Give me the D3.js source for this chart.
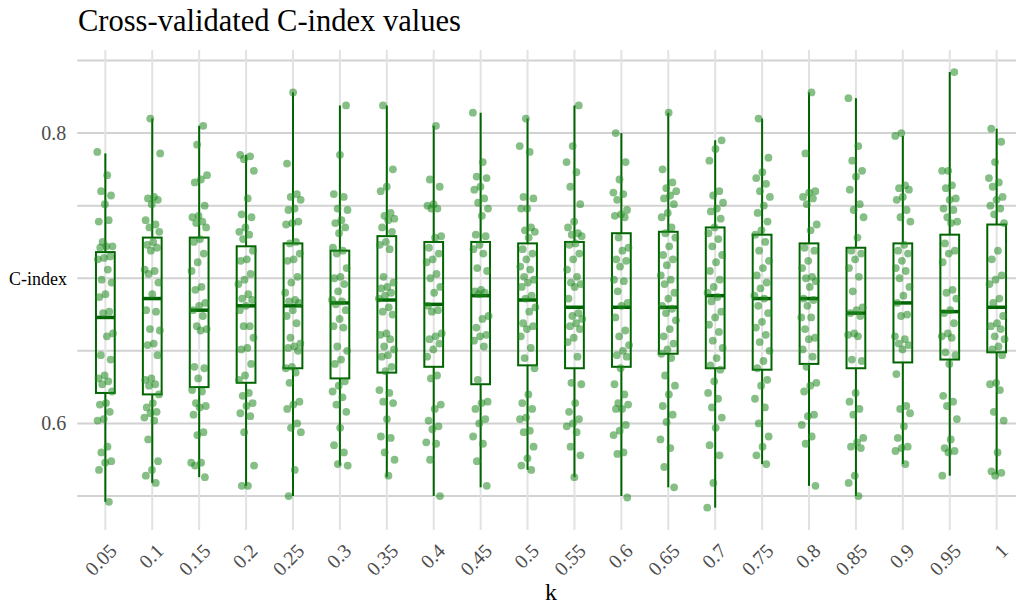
<!DOCTYPE html>
<html><head><meta charset="utf-8">
<script src="https://cdn.jsdelivr.net/npm/d3@7"></script>
<style>
body{margin:0;background:#fff}
svg{display:block}
text{font-family:"Liberation Serif","Times New Roman",serif}
</style>
</head><body><svg id="c" width="1016" height="607"></svg>
<script>
const categories = ["0.05","0.1","0.15","0.2","0.25","0.3","0.35","0.4","0.45","0.5","0.55","0.6","0.65","0.7","0.75","0.8","0.85","0.9","0.95","1"];
const yTicks = [0.6, 0.8];
const yGrid = [0.55, 0.6, 0.65, 0.7, 0.75, 0.8, 0.85];

// box statistics
const whiskerHi = [0.786,0.810,0.805,0.785,0.828,0.819,0.819,0.805,0.814,0.810,0.819,0.800,0.814,0.795,0.810,0.828,0.824,0.798,0.842,0.803];
const q3        = [0.718,0.728,0.728,0.722,0.724,0.719,0.729,0.725,0.725,0.724,0.725,0.731,0.732,0.735,0.730,0.724,0.721,0.724,0.730,0.737];
const medians   = [0.673,0.686,0.678,0.681,0.681,0.683,0.685,0.682,0.688,0.685,0.680,0.680,0.680,0.688,0.686,0.686,0.676,0.683,0.677,0.680];
const q1        = [0.621,0.620,0.625,0.628,0.638,0.631,0.635,0.639,0.627,0.640,0.638,0.639,0.648,0.638,0.637,0.641,0.638,0.642,0.644,0.649];
const whiskerLo = [0.546,0.559,0.563,0.557,0.550,0.571,0.563,0.550,0.556,0.568,0.563,0.550,0.556,0.542,0.572,0.557,0.550,0.572,0.564,0.565];

// cross-validated C-index values per k
const cv_005 = [0.787,0.771,0.760,0.757,0.751,0.739,0.740,0.725,0.722,0.722,0.721,0.715,0.714,0.713,0.706,0.699,0.697,0.689,0.687,0.677,0.676,0.662,0.660,0.647,0.644,0.633,0.631,0.629,0.627,0.622,0.614,0.613,0.608,0.603,0.602,0.584,0.580,0.574,0.573,0.568,0.546];
const cv_010 = [0.810,0.786,0.756,0.755,0.754,0.751,0.740,0.737,0.735,0.732,0.725,0.723,0.721,0.719,0.706,0.705,0.703,0.697,0.689,0.678,0.677,0.665,0.664,0.655,0.654,0.647,0.631,0.630,0.627,0.626,0.620,0.614,0.611,0.608,0.607,0.604,0.602,0.589,0.574,0.568,0.564,0.559];
const cv_015 = [0.805,0.792,0.771,0.768,0.766,0.750,0.743,0.742,0.739,0.738,0.735,0.727,0.725,0.717,0.711,0.705,0.694,0.692,0.683,0.681,0.678,0.674,0.667,0.665,0.664,0.639,0.638,0.631,0.623,0.622,0.614,0.612,0.611,0.606,0.594,0.592,0.573,0.573,0.571,0.563];
const cv_020 = [0.785,0.784,0.782,0.774,0.755,0.744,0.742,0.735,0.732,0.730,0.727,0.719,0.713,0.712,0.703,0.699,0.696,0.689,0.686,0.685,0.681,0.678,0.667,0.667,0.659,0.652,0.651,0.641,0.633,0.630,0.621,0.619,0.614,0.612,0.607,0.605,0.594,0.571,0.557,0.557];
const cv_025 = [0.828,0.779,0.758,0.756,0.754,0.748,0.747,0.739,0.738,0.737,0.725,0.724,0.717,0.713,0.712,0.701,0.697,0.690,0.685,0.684,0.683,0.678,0.674,0.669,0.659,0.655,0.653,0.652,0.650,0.639,0.638,0.635,0.628,0.615,0.613,0.610,0.600,0.597,0.594,0.568,0.550];
const cv_030 = [0.819,0.785,0.758,0.756,0.748,0.747,0.740,0.738,0.735,0.731,0.721,0.719,0.717,0.707,0.701,0.700,0.696,0.691,0.685,0.684,0.682,0.678,0.672,0.667,0.666,0.653,0.650,0.644,0.641,0.629,0.626,0.622,0.618,0.613,0.608,0.597,0.585,0.580,0.572,0.571];
const cv_035 = [0.819,0.775,0.763,0.760,0.745,0.743,0.741,0.740,0.735,0.732,0.725,0.723,0.720,0.701,0.697,0.694,0.693,0.690,0.688,0.686,0.680,0.677,0.675,0.662,0.661,0.658,0.653,0.651,0.647,0.646,0.639,0.636,0.623,0.621,0.615,0.614,0.603,0.591,0.590,0.580,0.575,0.564];
const cv_040 = [0.805,0.768,0.763,0.751,0.750,0.748,0.748,0.729,0.728,0.721,0.717,0.713,0.711,0.703,0.700,0.694,0.690,0.681,0.678,0.677,0.662,0.660,0.658,0.655,0.651,0.646,0.633,0.631,0.613,0.610,0.602,0.598,0.596,0.587,0.586,0.575,0.550];
const cv_045 = [0.814,0.780,0.770,0.769,0.763,0.761,0.755,0.752,0.748,0.743,0.730,0.729,0.723,0.720,0.717,0.707,0.705,0.692,0.691,0.690,0.689,0.674,0.672,0.666,0.661,0.660,0.657,0.653,0.630,0.615,0.614,0.610,0.603,0.600,0.591,0.586,0.574,0.557];
const cv_050 = [0.810,0.791,0.787,0.756,0.755,0.748,0.748,0.735,0.733,0.732,0.728,0.720,0.717,0.713,0.708,0.706,0.701,0.699,0.697,0.694,0.688,0.686,0.680,0.677,0.669,0.667,0.665,0.660,0.652,0.645,0.638,0.620,0.614,0.610,0.604,0.603,0.595,0.594,0.584,0.576,0.571,0.568];
const cv_055 = [0.819,0.791,0.780,0.773,0.763,0.751,0.739,0.735,0.731,0.730,0.729,0.724,0.723,0.717,0.713,0.706,0.701,0.697,0.696,0.694,0.686,0.676,0.674,0.672,0.669,0.667,0.665,0.659,0.656,0.646,0.628,0.627,0.614,0.608,0.603,0.600,0.598,0.594,0.584,0.578,0.563];
const cv_060 = [0.800,0.780,0.768,0.759,0.758,0.754,0.747,0.744,0.743,0.742,0.728,0.721,0.719,0.713,0.712,0.708,0.699,0.698,0.691,0.683,0.681,0.673,0.664,0.660,0.654,0.650,0.647,0.646,0.638,0.627,0.620,0.614,0.613,0.610,0.610,0.599,0.595,0.592,0.580,0.579,0.549];
const cv_065 = [0.814,0.775,0.766,0.762,0.760,0.757,0.755,0.751,0.745,0.742,0.735,0.731,0.728,0.722,0.716,0.713,0.709,0.702,0.699,0.696,0.690,0.686,0.681,0.679,0.676,0.671,0.665,0.660,0.655,0.651,0.648,0.645,0.633,0.626,0.620,0.612,0.606,0.601,0.589,0.583,0.570,0.556];
const cv_070 = [0.795,0.789,0.781,0.760,0.757,0.752,0.748,0.746,0.741,0.735,0.731,0.727,0.722,0.716,0.711,0.705,0.699,0.694,0.690,0.687,0.684,0.677,0.673,0.668,0.663,0.657,0.652,0.645,0.640,0.637,0.629,0.621,0.617,0.611,0.604,0.597,0.585,0.578,0.559,0.542];
const cv_075 = [0.810,0.783,0.773,0.769,0.765,0.760,0.756,0.750,0.745,0.739,0.733,0.730,0.725,0.719,0.712,0.707,0.702,0.697,0.693,0.688,0.686,0.681,0.676,0.670,0.666,0.661,0.656,0.650,0.643,0.638,0.630,0.626,0.617,0.611,0.600,0.591,0.584,0.578,0.572];
const cv_080 = [0.828,0.786,0.760,0.759,0.756,0.755,0.751,0.737,0.733,0.721,0.719,0.712,0.707,0.701,0.700,0.698,0.694,0.686,0.685,0.681,0.673,0.673,0.665,0.659,0.658,0.651,0.646,0.639,0.628,0.626,0.622,0.606,0.605,0.599,0.591,0.586,0.557];
const cv_085 = [0.824,0.791,0.781,0.774,0.770,0.761,0.751,0.747,0.742,0.728,0.719,0.717,0.713,0.707,0.701,0.691,0.680,0.678,0.676,0.674,0.662,0.661,0.660,0.644,0.643,0.621,0.615,0.610,0.606,0.590,0.587,0.584,0.583,0.564,0.559,0.550];
const cv_090 = [0.800,0.798,0.764,0.762,0.761,0.756,0.754,0.747,0.742,0.739,0.723,0.719,0.717,0.712,0.707,0.705,0.700,0.694,0.688,0.683,0.675,0.674,0.660,0.658,0.655,0.654,0.651,0.634,0.612,0.610,0.607,0.598,0.590,0.584,0.583,0.581,0.572];
const cv_095 = [0.842,0.774,0.774,0.764,0.762,0.755,0.754,0.748,0.747,0.742,0.739,0.738,0.724,0.719,0.717,0.711,0.692,0.690,0.686,0.678,0.676,0.669,0.662,0.660,0.659,0.649,0.647,0.641,0.619,0.615,0.612,0.603,0.589,0.583,0.581,0.580,0.564];
const cv_100 = [0.803,0.794,0.780,0.769,0.766,0.763,0.756,0.754,0.750,0.748,0.744,0.738,0.719,0.713,0.702,0.699,0.696,0.686,0.683,0.674,0.669,0.667,0.665,0.660,0.658,0.653,0.651,0.647,0.628,0.627,0.623,0.608,0.602,0.580,0.567,0.566,0.564];

const cvSeries = [cv_005,cv_010,cv_015,cv_020,cv_025,cv_030,cv_035,cv_040,cv_045,cv_050,cv_055,cv_060,cv_065,cv_070,cv_075,cv_080,cv_085,cv_090,cv_095,cv_100];

const W = 1016, H = 607;
const svg = d3.select("#c");
const x = d3.scalePoint().domain(categories).range([77.2, 1024.8]).padding(0.6);
const y = d3.scaleLinear().domain([0.5266, 0.8572]).range([530, 50]);
const step = x.step();
const boxW = step * 0.4;

// grid
const grid = svg.append("g");
grid.selectAll("line.h").data(yGrid).join("line").attr("class", "h")
  .attr("x1", 77.2).attr("x2", W).attr("y1", d => y(d)).attr("y2", d => y(d))
  .attr("stroke", "#d2d2d2").attr("stroke-width", 2);
grid.selectAll("line.v").data(categories).join("line").attr("class", "v")
  .attr("x1", d => x(d)).attr("x2", d => x(d)).attr("y1", 50).attr("y2", 530)
  .attr("stroke", "#e2e2e2").attr("stroke-width", 2);

// boxes
const boxes = categories.map((c, i) => ({c, lo: whiskerLo[i], q1: q1[i], med: medians[i], q3: q3[i], hi: whiskerHi[i]}));
const bg = svg.append("g").attr("stroke", "#006400").attr("fill", "none");
bg.selectAll("line.wu").data(boxes).join("line").attr("class", "wu")
  .attr("x1", d => x(d.c)).attr("x2", d => x(d.c)).attr("y1", d => y(d.q3)).attr("y2", d => y(d.hi)).attr("stroke-width", 2);
bg.selectAll("line.wl").data(boxes).join("line").attr("class", "wl")
  .attr("x1", d => x(d.c)).attr("x2", d => x(d.c)).attr("y1", d => y(d.q1)).attr("y2", d => y(d.lo)).attr("stroke-width", 2);
bg.selectAll("rect").data(boxes).join("rect")
  .attr("x", d => x(d.c) - boxW / 2).attr("width", boxW)
  .attr("y", d => y(d.q3)).attr("height", d => y(d.q1) - y(d.q3)).attr("stroke-width", 2);
bg.selectAll("line.med").data(boxes).join("line").attr("class", "med")
  .attr("x1", d => x(d.c) - boxW / 2).attr("x2", d => x(d.c) + boxW / 2)
  .attr("y1", d => y(d.med)).attr("y2", d => y(d.med)).attr("stroke-width", 3.5);

// jittered points (deterministic horizontal spread)
const pts = [];
cvSeries.forEach((arr, g) => arr.forEach((v, i) => {
  const f = ((i * 0.6180339887 + g * 0.377) % 1) - 0.5;
  pts.push({c: categories[g], v, off: f * 16});
}));
svg.append("g").selectAll("circle").data(pts).join("circle")
  .attr("cx", d => x(d.c) + d.off).attr("cy", d => y(d.v)).attr("r", 3.9)
  .attr("fill", "#228B22").attr("fill-opacity", 0.55);

// axes
const yAxis = svg.append("g").attr("transform", "translate(77.2,0)")
  .call(d3.axisLeft(y).tickValues(yTicks).tickFormat(d3.format("~g")).tickSize(0).tickPadding(11));
yAxis.select(".domain").remove();
yAxis.selectAll("text").attr("fill", "#4d4d4d").style("font-size", "20px").style("font-family", '"Liberation Serif","Times New Roman",serif');

const xAxis = svg.append("g").attr("transform", "translate(0,530)")
  .call(d3.axisBottom(x).tickSize(0).tickPadding(0));
xAxis.select(".domain").remove();
xAxis.selectAll("text")
  .attr("fill", "#4d4d4d").style("font-size", "20px").style("font-family", '"Liberation Serif","Times New Roman",serif')
  .attr("text-anchor", "end").attr("y", 0).attr("dy", "0.72em")
  .attr("transform", "translate(2,12) rotate(-45)");

// titles
svg.append("text").attr("x", 78).attr("y", 31).attr("fill", "#000").style("font-size", "30.5px")
  .text("Cross-validated C-index values");
svg.append("text").attr("x", 9).attr("y", 285).attr("fill", "#000").style("font-size", "18px").text("C-index");
svg.append("text").attr("x", 551).attr("y", 600).attr("text-anchor", "middle").attr("fill", "#000").style("font-size", "24px").text("k");
</script></body></html>
